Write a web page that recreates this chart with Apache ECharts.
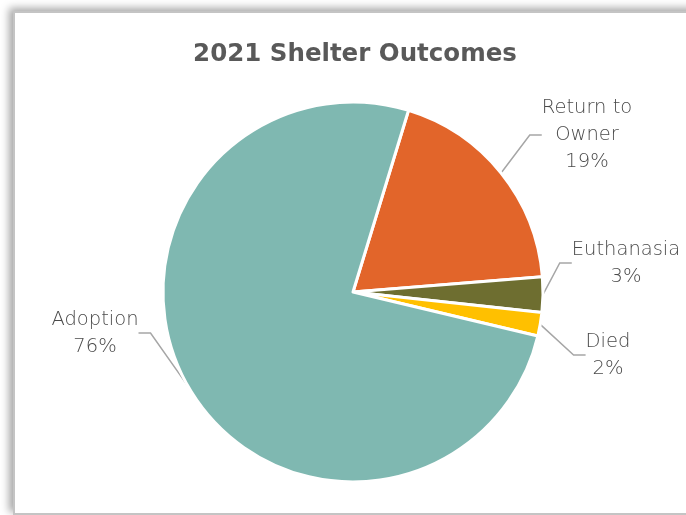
<!DOCTYPE html>
<html>
<head>
<meta charset="utf-8">
<script src="https://cdn.jsdelivr.net/npm/echarts@6/dist/echarts.min.js"></script>
<style>
  html, body { margin: 0; padding: 0; background: #ffffff; }
  #frame { position: absolute; left: 13px; top: 11px; width: 700px; height: 500px;
           border: 2px solid #c4c4c4; background: #fff;
           box-shadow: -4px -3px 8px rgba(0,0,0,0.35); }
  #chart { position: absolute; left: 0; top: 0; width: 686px; height: 515px; }
</style>
</head>
<body>
<div id="frame"></div>
<div id="chart"></div>
<script>
const titleText = '2021 Shelter Outcomes';
const categories = ['Return to Owner', 'Euthanasia', 'Died', 'Adoption'];
const labelNames = ['Return to\nOwner', 'Euthanasia', 'Died', 'Adoption'];
const values = [19, 3, 2, 76];
const colors = ['#E2652A', '#6E6E30', '#FFC000', '#7FB8B1'];

// label anchor positions (centre of each text block)
const labelPos = [[587, 135], [626, 263], [608, 355], [95, 333]];

const chart = echarts.init(document.getElementById('chart'), null, { renderer: 'canvas' });
const font = '"DejaVu Sans", sans-serif';

chart.setOption({
  backgroundColor: 'transparent',
  animation: false,
  title: {
    text: titleText,
    left: 350, top: 37, textAlign: 'center',
    textStyle: { fontFamily: font, fontSize: 24.5, fontWeight: 'bold', color: '#595959' }
  },
  series: [{
    type: 'pie',
    center: [353, 292],
    radius: 190,
    startAngle: 73,
    clockwise: true,
    avoidLabelOverlap: false,
    itemStyle: { borderColor: '#ffffff', borderWidth: 3 },
    label: {
      show: true,
      position: 'outside',
      formatter: function (p) {
        const lines = labelNames[p.dataIndex].split('\n');
        lines.push(Math.round(p.percent) + '%');
        return lines.map(function (l) { return '{c|' + l + '}'; }).join('\n');
      },
      rich: {
        c: { align: 'center', fontFamily: font, fontSize: 19.5, fontWeight: 300, color: '#4a4a4a', lineHeight: 27 }
      }
    },
    labelLine: {
      show: true, length: 15, length2: 12,
      lineStyle: { color: '#a6a6a6', width: 1.5 }
    },
    labelLayout: function (params) {
      const pos = labelPos[params.dataIndex];
      return { x: pos[0], y: pos[1], align: 'center', verticalAlign: 'middle' };
    },
    data: categories.map(function (c, i) {
      return { name: c, value: values[i], itemStyle: { color: colors[i] } };
    })
  }]
});
</script>
</body>
</html>
